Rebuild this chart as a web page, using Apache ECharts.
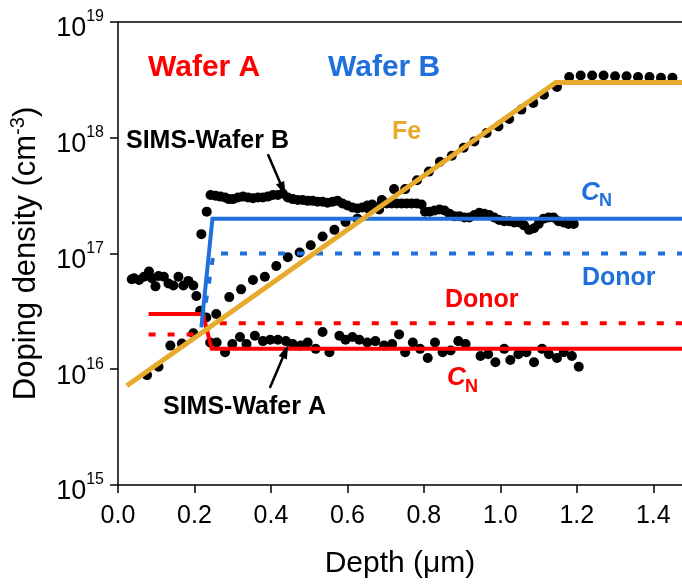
<!DOCTYPE html>
<html>
<head>
<meta charset="utf-8">
<script src="https://cdn.jsdelivr.net/npm/echarts@6/dist/echarts.min.js"></script>
<style>
html,body{margin:0;padding:0;background:#fff;}
#chart{width:682px;height:584px;}
</style>
</head>
<body>
<div id="chart"></div>
<script>
// ---- data (depth in µm, density in cm^-3) ----
var xTicks = [0.0, 0.2, 0.4, 0.6, 0.8, 1.0, 1.2, 1.4];
var yTickExponents = [15, 16, 17, 18, 19];

var simsWaferB = [
  [0.036,6.0e16],[0.042,6.1e16],[0.055,5.9e16],[0.068,6.3e16],[0.081,7.0e16],[0.089,6.1e16],
  [0.098,5.2e16],[0.106,6.4e16],[0.120,6.3e16],[0.132,5.5e16],[0.145,5.3e16],[0.158,6.3e16],
  [0.171,5.3e16],[0.184,5.8e16],[0.197,5.3e16],[0.205,4.3e16],[0.218,1.47e17],[0.232,2.3e17],
  [0.242,3.2e17],[0.255,3.15e17],[0.268,3.1e17],[0.280,3.05e17],[0.290,2.95e17],[0.301,2.95e17],
  [0.314,3.05e17],[0.327,3.1e17],[0.340,3.05e17],[0.353,3.0e17],[0.366,3.05e17],[0.379,3.05e17],
  [0.392,3.1e17],[0.405,3.2e17],[0.418,3.2e17],[0.431,3.3e17],[0.444,3.05e17],[0.457,2.95e17],
  [0.470,2.9e17],[0.483,2.9e17],[0.496,2.85e17],[0.509,2.85e17],[0.522,2.8e17],[0.535,2.8e17],
  [0.548,2.75e17],[0.561,2.8e17],[0.574,2.85e17],[0.587,2.7e17],[0.600,2.6e17],[0.613,2.5e17],
  [0.626,2.45e17],[0.639,2.5e17],[0.652,2.6e17],[0.665,2.65e17],[0.683,2.4e17],[0.690,2.7e17],
  [0.703,2.7e17],[0.716,2.7e17],[0.729,2.7e17],[0.742,2.7e17],[0.755,2.7e17],[0.768,2.7e17],
  [0.781,2.7e17],[0.794,2.65e17],[0.803,2.3e17],[0.815,2.3e17],[0.828,2.35e17],[0.841,2.4e17],
  [0.854,2.35e17],[0.867,2.2e17],[0.880,2.1e17],[0.893,2.1e17],[0.906,2.05e17],[0.919,2.05e17],
  [0.932,2.15e17],[0.945,2.25e17],[0.958,2.2e17],[0.971,2.15e17],[0.984,2.05e17],[0.997,1.95e17],
  [1.010,1.9e17],[1.023,1.9e17],[1.036,1.85e17],[1.049,1.85e17],[1.062,1.75e17],[1.075,1.6e17],
  [1.088,1.65e17],[1.100,1.8e17],[1.113,2.0e17],[1.126,2.05e17],[1.139,2.05e17],[1.152,1.9e17],
  [1.165,1.85e17],[1.178,1.8e17],[1.192,1.8e17]
];

var simsWaferA = [
  [0.076,8.9e15],[0.106,1.05e16],[0.137,1.6e16],[0.167,1.67e16],[0.197,2.05e16],[0.215,3.2e16],
  [0.231,2.8e16],[0.241,1.7e16],[0.258,1.7e16],[0.280,1.4e16],[0.299,1.65e16],[0.319,1.9e16],
  [0.336,1.65e16],[0.358,1.95e16],[0.379,1.75e16],[0.398,1.8e16],[0.418,1.8e16],[0.439,1.75e16],
  [0.457,1.65e16],[0.478,1.6e16],[0.496,1.7e16],[0.517,1.5e16],[0.535,2.1e16],[0.553,1.4e16],
  [0.579,1.95e16],[0.595,1.8e16],[0.613,1.9e16],[0.631,1.8e16],[0.652,1.7e16],[0.673,1.75e16],
  [0.696,1.6e16],[0.717,1.65e16],[0.735,2.0e16],[0.751,1.4e16],[0.771,1.7e16],[0.790,1.5e16],
  [0.810,1.25e16],[0.829,1.7e16],[0.849,1.4e16],[0.870,1.45e16],[0.890,1.75e16],[0.909,1.65e16],
  [0.948,1.3e16],[0.968,1.35e16],[0.987,1.15e16],[1.010,1.5e16],[1.026,1.2e16],[1.047,1.35e16],
  [1.068,1.4e16],[1.088,1.15e16],[1.109,1.5e16],[1.127,1.35e16],[1.148,1.25e16],[1.166,1.4e16],
  [1.187,1.3e16],[1.205,1.05e16]
];

var simsFe = [
  [0.257,3.0e16],[0.291,4.2e16],[0.322,4.9e16],[0.353,5.9e16],[0.384,6.3e16],[0.414,7.8e16],
  [0.444,9.3e16],[0.475,1.02e17],[0.504,1.18e17],[0.535,1.4e17],[0.566,1.6e17],[0.595,1.87e17],
  [0.626,2.0e17],[0.657,2.4e17],[0.690,2.9e17],[0.722,3.6e17],[0.751,3.6e17],[0.782,4.3e17],
  [0.813,5.1e17],[0.842,6.2e17],[0.873,7.0e17],[0.904,8.2e17],[0.932,9.3e17],[0.964,1.1e18],
  [0.995,1.25e18],[1.023,1.45e18],[1.055,1.75e18],[1.086,2.0e18],[1.114,2.35e18],[1.148,2.75e18],
  [1.180,3.35e18],[1.210,3.45e18],[1.240,3.45e18],[1.270,3.45e18],[1.300,3.4e18],[1.330,3.4e18],
  [1.360,3.35e18],[1.390,3.35e18],[1.420,3.3e18],[1.450,3.3e18]
];

var feLine  = [[0.023,7.2e15],[1.145,3.0e18],[1.475,3.0e18]];
var cnB     = [[0.218,2.3e16],[0.247,2.0e17],[1.475,2.0e17]];
var donorB  = [[0.222,2.6e16],[0.250,1.0e17],[1.475,1.0e17]];
var cnA     = [[0.080,3.0e16],[0.222,3.0e16],[0.245,1.5e16],[1.475,1.5e16]];
var donorA  = [[0.080,2.0e16],[0.222,2.0e16],[0.250,2.5e16],[1.475,2.5e16]];

var arrowB = [[0.392,7.2e17],[0.431,3.6e17]];
var arrowA = [[0.397,6.9e15],[0.438,1.43e16]];

// ---- chart ----
var RED = '#ff0000', BLUE = '#1f6fdc', GOLD = '#e8aa2c';
var FONT = 'Liberation Sans, Arial, sans-serif';
var chart = echarts.init(document.getElementById('chart'), null, {renderer:'canvas'});

function scatter(data){
  return {type:'scatter', data:data, symbol:'circle', symbolSize:10,
    itemStyle:{color:'#000', opacity:1}, silent:true, z:2};
}
function line(data, color, width, dashed){
  return {type:'line', data:data, showSymbol:false, symbol:'none', z:3, silent:true,
    lineStyle:{color:color, width:width, type: dashed ? [7,12] : 'solid', cap:'butt', join:'miter'}};
}
function arrow(pts){
  return {type:'line', data:[], silent:true, z:4,
    markLine:{silent:true, symbol:['none','triangle'], symbolSize:[9,14],
      label:{show:false}, lineStyle:{color:'#000', width:2.5, type:'solid'},
      data:[[{coord:pts[0]},{coord:pts[1]}]]}};
}

var option = {
  animation:false,
  grid:{left:114, right:0, top:22, bottom:97, containLabel:false},
  xAxis:[{
    type:'value', min:0, max:1.475, interval:0.2,
    axisLine:{show:true, lineStyle:{color:'#000', width:1.5}},
    axisTick:{show:true, inside:false, length:8, lineStyle:{color:'#000', width:1.5}},
    splitLine:{show:false},
    axisLabel:{color:'#000', fontSize:25, fontFamily:FONT, margin:19, showMaxLabel:false,
      formatter:function(v){
        for (var i=0;i<xTicks.length;i++){ if (Math.abs(v-xTicks[i])<1e-6) return xTicks[i].toFixed(1); }
        return '';
      }},
    name:'Depth (\u03bcm)', nameLocation:'middle', nameGap:64,
    nameTextStyle:{color:'#000', fontSize:30, fontFamily:FONT}
  },{
    type:'value', position:'top', min:0, max:1.475,
    axisLine:{show:true, lineStyle:{color:'#000', width:1.5}},
    axisTick:{show:false}, axisLabel:{show:false}, splitLine:{show:false}
  }],
  yAxis:{
    type:'log', logBase:10, min:1e15, max:1e19,
    axisLine:{show:true, lineStyle:{color:'#000', width:1.5}},
    axisTick:{show:true, length:8, lineStyle:{color:'#000', width:1.5}},
    minorTick:{show:false}, splitLine:{show:false},
    axisLabel:{margin:14, formatter:function(v){
        var e = Math.round(Math.log(v)/Math.LN10);
        if (yTickExponents.indexOf(e) < 0) return '';
        return '{b|10}{s|' + e + '}';
      },
      rich:{b:{fontSize:27, fontFamily:FONT, color:'#000', padding:[14,0,0,0]},
            s:{fontSize:16, fontFamily:FONT, color:'#000', padding:[0,0,10,0]}}},
    name:'{a|Doping density (cm}{s|-3}{a|)}', nameLocation:'middle', nameRotate:90, nameGap:74,
    nameTextStyle:{rich:{a:{fontSize:31, fontFamily:FONT, color:'#000'},
                         s:{fontSize:20, fontFamily:FONT, color:'#000', padding:[0,0,16,0]}}}
  },
  series:[
    scatter(simsWaferB), scatter(simsWaferA), scatter(simsFe),
    line(donorA, RED, 4, true),
    line(donorB, BLUE, 4, true),
    line(cnA, RED, 4, false),
    line(cnB, BLUE, 4, false),
    line(feLine, GOLD, 5, false),
    arrow(arrowB), arrow(arrowA)
  ],
  graphic:[
    {type:'text', left:148, top:53, style:{text:'Wafer A', fill:RED, font:'bold 30px '+FONT}},
    {type:'text', left:328, top:53, style:{text:'Wafer B', fill:BLUE, font:'bold 30px '+FONT}},
    {type:'text', left:126, top:129, style:{text:'SIMS-Wafer B', fill:'#000', font:'bold 25px '+FONT}},
    {type:'text', left:163, top:395, style:{text:'SIMS-Wafer A', fill:'#000', font:'bold 25px '+FONT}},
    {type:'text', left:392, top:120, style:{text:'Fe', fill:GOLD, font:'bold 25px '+FONT}},
    {type:'text', left:581, top:180, style:{text:'C', fill:BLUE, font:'italic bold 26px '+FONT}},
    {type:'text', left:599, top:192, style:{text:'N', fill:BLUE, font:'bold 18px '+FONT}},
    {type:'text', left:582, top:266, style:{text:'Donor', fill:BLUE, font:'bold 25px '+FONT}},
    {type:'text', left:445, top:288, style:{text:'Donor', fill:RED, font:'bold 25px '+FONT}},
    {type:'text', left:447, top:365, style:{text:'C', fill:RED, font:'italic bold 26px '+FONT}},
    {type:'text', left:465, top:378, style:{text:'N', fill:RED, font:'bold 18px '+FONT}}
  ]
};
chart.setOption(option);
</script>
</body>
</html>
